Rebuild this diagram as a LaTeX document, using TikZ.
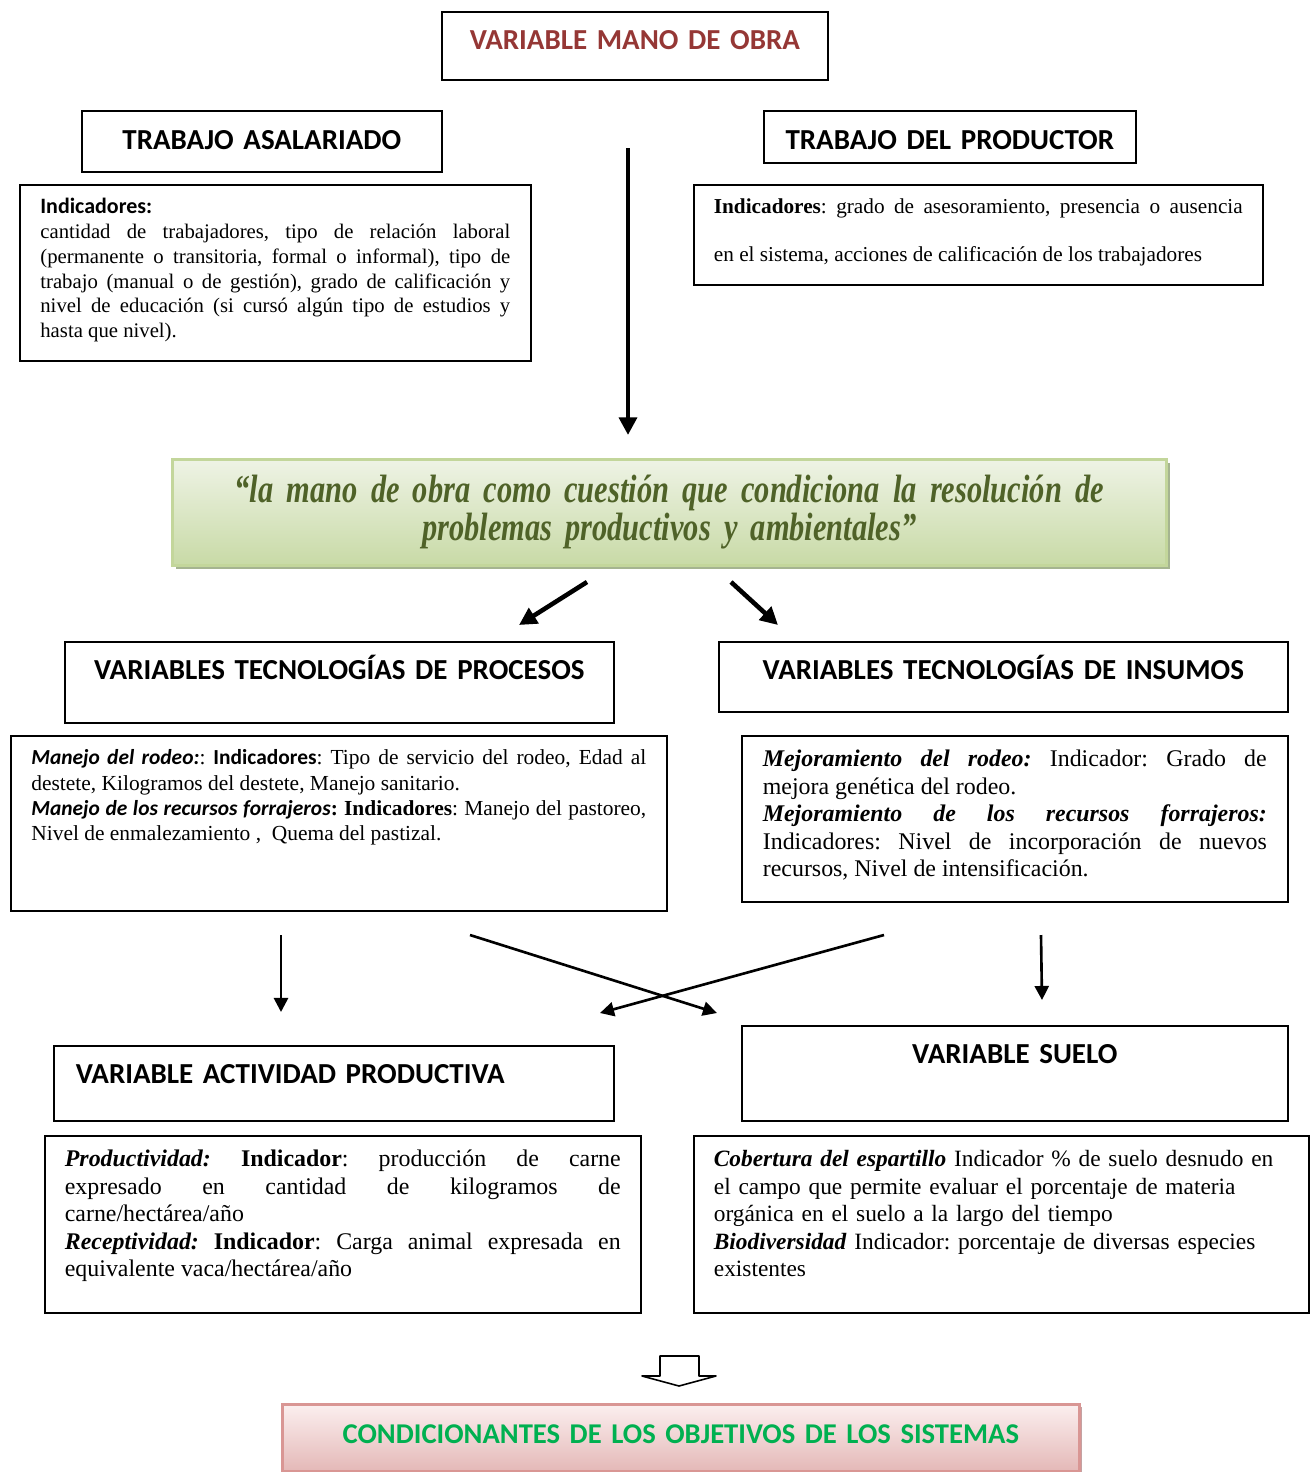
\documentclass[tikz,border=0pt]{standalone}
\usepackage{fontspec}
\setmainfont{Liberation Serif}
\newfontfamily\calibri{Carlito}
\newfontfamily\quotefont[FakeStretch=0.77, WordSpace=0.7]{Liberation Serif}
\usetikzlibrary{arrows.meta, positioning, shadows}

\definecolor{obraRed}{HTML}{953735}
\definecolor{quoteGreen}{HTML}{4F6228}
\definecolor{condGreen}{HTML}{00B050}
\definecolor{lineGreen}{HTML}{C3D69B}
\definecolor{topGreen}{HTML}{EEF3E5}
\definecolor{botGreen}{HTML}{C8DAA6}
\definecolor{shadeGreen}{HTML}{A5B490}
\definecolor{linePink}{HTML}{D99694}
\definecolor{topPink}{HTML}{FBEFEF}
\definecolor{botPink}{HTML}{E4B8B7}
\definecolor{shadePink}{HTML}{C4A2A2}

\begin{document}
\frenchspacing
\begin{tikzpicture}[
  x=0.02cm, y=-0.02cm,
  hbox/.style={draw, line width=1pt, anchor=north west, inner sep=0pt, align=center, font=\calibri\bfseries\fontsize{16.5}{19}\selectfont},
  ibox/.style={draw, line width=1pt, anchor=north west, inner ysep=0pt, inner xsep=0.4cm, align=justify},
  small/.style={font=\fontsize{11.8}{14.1}\selectfont},
  large/.style={font=\fontsize{13.6}{15.65}\selectfont},
  bigarr/.style={line width=2.6pt, -{Triangle[length=10pt,width=10pt]}},
  arr/.style={line width=1.5pt, -{Triangle[length=8pt,width=8pt]}}
]
\useasboundingbox (0,0) rectangle (1311,1472);

% top row
\node[hbox, text=obraRed, text width=7.72cm, text height=0.76cm, text depth=0.6cm] (mano) at (441,11) {VARIABLE MANO DE OBRA};
\node[hbox, text width=7.2cm, text height=0.78cm, text depth=0.44cm] (asal) at (81,110) {TRABAJO ASALARIADO};
\node[hbox, text width=7.44cm, text height=0.78cm, text depth=0.26cm] (prod) at (763,110) {TRABAJO DEL PRODUCTOR};

\node[ibox, small, inner xsep=0.41cm, text width=9.4cm, text height=0.58cm, text depth=2.94cm] (asalInd) at (19,184)
  {{\calibri\bfseries\fontsize{12.5}{14.1}\selectfont Indicadores:}\par
   cantidad de trabajadores, tipo de relación laboral\linebreak
   (permanente o transitoria, formal o informal), tipo de\linebreak
   trabajo (manual o de gestión), grado de calificación y\linebreak
   nivel de educación (si cursó algún tipo de estudios y\linebreak
   hasta que nivel).};
\node[ibox, font=\fontsize{12.1}{27.3}\selectfont, text width=10.58cm, text height=0.58cm, text depth=1.42cm] (prodInd) at (693,184)
  {\textbf{Indicadores}: grado de asesoramiento, presencia o ausencia\linebreak
   en el sistema, acciones de calificación de los trabajadores};

% central idea
\coordinate (downTop) at (628,148);
\coordinate (downEnd) at (628,435);
\draw[bigarr] (downTop) -- (downEnd);

\node[draw=lineGreen, line width=1.6pt, anchor=north west, inner sep=0pt,
      top color=topGreen, bottom color=botGreen,
      drop shadow={shadow xshift=0.07cm, shadow yshift=-0.07cm, fill=shadeGreen, opacity=1},
      minimum width=19.88cm, minimum height=2.12cm, text width=19.5cm, align=center,
      text=quoteGreen, font=\quotefont\bfseries\itshape\fontsize{22.5}{21.6}\selectfont] (idea) at (171,458)
  {“la mano de obra como cuestión que condiciona la resolución de\\ problemas productivos y ambientales”};

\coordinate (splitL) at (587,582);
\coordinate (splitLe) at (519,625);
\coordinate (splitR) at (731,582);
\coordinate (splitRe) at (778,625);
\draw[bigarr] (splitL) -- (splitLe);
\draw[bigarr] (splitR) -- (splitRe);

% technologies
\node[hbox, text width=10.98cm, text height=0.76cm, text depth=0.86cm] (procH) at (64,641) {VARIABLES TECNOLOGÍAS DE PROCESOS};
\node[hbox, text width=11.38cm, text height=0.76cm, text depth=0.64cm] (insH) at (718,641) {VARIABLES TECNOLOGÍAS DE INSUMOS};

\node[ibox, font=\fontsize{12.2}{14.4}\selectfont, inner xsep=0.41cm, text width=12.3cm, text height=0.58cm, text depth=2.92cm] (procInd) at (10,735)
  {{\calibri\bfseries\itshape Manejo del rodeo:}: {\calibri\bfseries Indicadores}: Tipo de servicio del rodeo, Edad al\linebreak
   destete, Kilogramos del destete, Manejo sanitario.\par
   {\calibri\bfseries\itshape Manejo de los recursos forrajeros}\textbf{: Indicadores}: Manejo del pastoreo,\linebreak
   Nivel de enmalezamiento ,\ \ Quema del pastizal.};
\node[ibox, large, inner xsep=0.42cm, text width=10.08cm, text height=0.62cm, text depth=2.7cm] (insInd) at (741,735)
  {\textbf{\textit{Mejoramiento del rodeo:}} Indicador: Grado de\linebreak
   mejora genética del rodeo.\par
   \textbf{\textit{Mejoramiento de los recursos forrajeros:}}\linebreak
   Indicadores: Nivel de incorporación de nuevos\linebreak
   recursos, Nivel de intensificación.};

\coordinate (p1) at (281,935);
\coordinate (p1e) at (281,1012);
\coordinate (p2) at (470,935);
\coordinate (p2e) at (717,1013);
\coordinate (p3) at (884,935);
\coordinate (p3e) at (600,1013);
\coordinate (p4) at (1041,935);
\coordinate (p4e) at (1042,1000);
\draw[arr] (p1) -- (p1e);
\draw[arr] (p2) -- (p2e);
\draw[arr] (p3) -- (p3e);
\draw[arr] (p4) -- (p4e);

% activity and soil
\node[hbox, align=left, inner xsep=0.44cm, text width=10.32cm, text height=0.76cm, text depth=0.74cm] (actH) at (53,1045) {VARIABLE ACTIVIDAD PRODUCTIVA};
\node[hbox, text width=10.92cm, text height=0.76cm, text depth=1.14cm] (sueloH) at (741,1025) {VARIABLE SUELO};

\node[ibox, large, text width=11.12cm, text height=0.62cm, text depth=2.92cm] (actInd) at (44,1135)
  {\textbf{\textit{Productividad:}} \textbf{Indicador}: producción de carne\linebreak
   expresado en cantidad de kilogramos de\linebreak
   carne/hectárea/año\par
   \textbf{\textit{Receptividad:}} \textbf{Indicador}: Carga animal expresada en\linebreak
   equivalente vaca/hectárea/año};
\node[ibox, font=\fontsize{13.3}{15.65}\selectfont, align=left, text width=11.5cm, text height=0.62cm, text depth=2.92cm] (sueloInd) at (693,1135)
  {\textbf{\textit{Cobertura del espartillo}} Indicador \% de suelo desnudo en\\
   el campo que permite evaluar el porcentaje de materia\\
   orgánica en el suelo a la largo del tiempo\\
   \textbf{\textit{Biodiversidad}} Indicador: porcentaje de diversas especies\\
   existentes};

% result
\draw[line width=0.9pt, line join=round] (660,1356) -- (699,1356) -- (699,1376) -- (716,1376) -- (679,1386) -- (642,1376) -- (660,1376) -- cycle;

\node[hbox, draw=linePink, line width=1.6pt, top color=topPink, bottom color=botPink,
      drop shadow={shadow xshift=0.06cm, shadow yshift=-0.06cm, fill=shadePink, opacity=1},
      text=condGreen, font=\calibri\bfseries\fontsize{16.3}{18}\selectfont,
      text width=15.94cm, text height=0.78cm, text depth=0.56cm] (cond) at (281,1403)
  {CONDICIONANTES DE LOS OBJETIVOS DE LOS SISTEMAS};
\end{tikzpicture}
\end{document}
